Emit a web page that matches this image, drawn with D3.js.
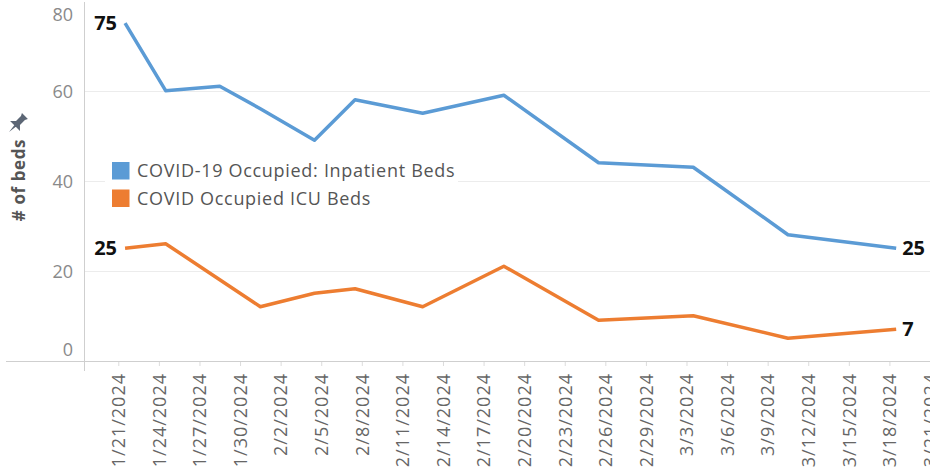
<!DOCTYPE html>
<html>
<head>
<meta charset="utf-8">
<script src="https://cdn.jsdelivr.net/npm/d3@7"></script>
<style>
  body { margin: 0; background: #fff; }
  svg { display: block; font-family: "Open Sans", sans-serif; }
</style>
</head>
<body>
<div id="chart"></div>
<script>
// data
const dates = ["2024-01-21", "2024-01-24", "2024-01-28", "2024-01-31", "2024-02-04", "2024-02-07",
  "2024-02-12", "2024-02-18", "2024-02-25", "2024-03-03", "2024-03-10", "2024-03-18"];
const inpatientBeds = [75, 60, 61, 56, 49, 58, 55, 59, 44, 43, 28, 25];
const icuBeds = [25, 26, 18, 12, 15, 16, 12, 21, 9, 10, 5, 7];
const seriesNames = ["COVID-19 Occupied: Inpatient Beds", "COVID Occupied ICU Beds"];
const seriesColors = ["#5b9bd5", "#ed7d31"];
const tickLabels = ["1/21/2024", "1/24/2024", "1/27/2024", "1/30/2024", "2/2/2024", "2/5/2024",
  "2/8/2024", "2/11/2024", "2/14/2024", "2/17/2024", "2/20/2024", "2/23/2024", "2/26/2024",
  "2/29/2024", "3/3/2024", "3/6/2024", "3/9/2024", "3/12/2024", "3/15/2024", "3/18/2024", "3/21/2024"];
const yTicks = [0, 20, 40, 60, 80];

const width = 930, height = 471;
const plotLeft = 84, plotBottom = 361;

const parseDay = d3.timeParse("%Y-%m-%d");
const parseTick = d3.timeParse("%m/%d/%Y");
const fmtTick = d3.timeFormat("%-m/%-d/%Y");
// marks sit in the middle of their day
const points = dates.map(s => d3.timeHour.offset(parseDay(s), 12));
const tickDates = tickLabels.map(parseTick);

const svg = d3.select('#chart')
  .append('svg')
  .attr('width', width)
  .attr('height', height);

const x = d3.scaleTime()
  .domain([tickDates[0], tickDates[tickDates.length - 1]])
  .range([118.3, 930]);

const y = d3.scaleLinear()
  .domain([0, 80])
  .range([360.7, 0.7]);

// grid
svg.append('g')
  .selectAll('line')
  .data(yTicks.filter(d => d > 0 && d < 80))
  .enter()
  .append('line')
  .attr('x1', plotLeft)
  .attr('x2', width)
  .attr('y1', d => Math.round(y(d)) + 0.5)
  .attr('y2', d => Math.round(y(d)) + 0.5)
  .attr('stroke', '#ececec')
  .attr('stroke-width', 1);

// x axis
const xAxis = svg.append('g')
  .attr('transform', `translate(0,${plotBottom})`)
  .call(d3.axisBottom(x).tickValues(tickDates).tickFormat(fmtTick).tickSize(5).tickSizeOuter(0));
xAxis.select('.domain').remove();
xAxis.selectAll('.tick line').attr('stroke', '#dcdcdc');
xAxis.selectAll('.tick text')
  .attr('transform', 'rotate(-90)')
  .attr('text-anchor', 'end')
  .attr('x', -12)
  .attr('y', 0)
  .attr('dy', '0.35em')
  .style('font-family', '"Open Sans", sans-serif')
  .style('font-size', '18px')
  .style('letter-spacing', '1px')
  .attr('fill', '#666');

// axis lines
svg.append('line')
  .attr('x1', 6).attr('x2', width)
  .attr('y1', plotBottom + 0.5).attr('y2', plotBottom + 0.5)
  .attr('stroke', '#cfcfcf');
svg.append('line')
  .attr('x1', plotLeft + 0.5).attr('x2', plotLeft + 0.5)
  .attr('y1', 2).attr('y2', 371)
  .attr('stroke', '#cfcfcf');

// y axis labels
const yAxis = svg.append('g')
  .attr('transform', `translate(${plotLeft},0)`)
  .call(d3.axisLeft(y).tickValues(yTicks).tickSize(0).tickPadding(11));
yAxis.select('.domain').remove();
yAxis.selectAll('.tick text')
  .style('font-family', '"Open Sans", sans-serif')
  .style('font-size', '18px')
  .attr('fill', '#8a8a8a')
  .attr('dy', d => d === 0 ? '-0.3em' : d === 80 ? '1.1em' : '0.35em');

// y title with pin
const title = svg.append('g').attr('transform', 'translate(25,180) rotate(-90)');
title.append('text')
  .attr('text-anchor', 'middle')
  .style('font-size', '17px')
  .style('font-weight', 'bold')
  .style('letter-spacing', '0.6px')
  .attr('fill', '#555')
  .text('# of beds');
svg.append('path')
  .attr('transform', 'translate(18,123) rotate(45) scale(1.4)')
  .attr('d', 'M-3,-7 L3,-7 L2,-5 L2,0 L5,3 L-5,3 L-2,0 L-2,-5 Z M-0.8,3 L0.8,3 L0,9 Z')
  .attr('fill', '#5c6675');

// lines
const series = [inpatientBeds, icuBeds];
const line = d3.line()
  .x((d, i) => x(points[i]))
  .y(d => y(d));

svg.append('g')
  .selectAll('path')
  .data(series)
  .enter()
  .append('path')
  .attr('d', d => line(d))
  .attr('fill', 'none')
  .attr('stroke', (d, i) => seriesColors[i])
  .attr('stroke-width', 3.5)
  .attr('stroke-linejoin', 'round');

// end labels
series.forEach(vals => {
  const last = vals.length - 1;
  svg.append('text')
    .attr('x', x(points[0]) - 8)
    .attr('y', y(vals[0]))
    .attr('dy', '0.35em')
    .attr('text-anchor', 'end')
    .style('font-size', '20px')
    .style('font-weight', 'bold')
    .attr('fill', '#111')
    .text(vals[0]);
  svg.append('text')
    .attr('x', x(points[last]) + 6)
    .attr('y', y(vals[last]))
    .attr('dy', '0.35em')
    .style('font-size', '20px')
    .style('font-weight', 'bold')
    .attr('fill', '#111')
    .text(vals[last]);
});

// legend
const legend = svg.append('g').attr('transform', 'translate(105,157)');
legend.append('rect')
  .attr('width', 353)
  .attr('height', 56)
  .attr('fill', '#fff');
const item = legend.selectAll('g')
  .data(seriesNames)
  .enter()
  .append('g')
  .attr('transform', (d, i) => `translate(7,${5 + i * 27.5})`);
item.append('rect')
  .attr('width', 17.5)
  .attr('height', 17.5)
  .attr('fill', (d, i) => seriesColors[i]);
item.append('text')
  .attr('x', 25)
  .attr('y', 9)
  .attr('dy', '0.35em')
  .style('font-size', '18px')
  .style('letter-spacing', '0.7px')
  .attr('fill', '#555')
  .text(d => d);
</script>
</body>
</html>
